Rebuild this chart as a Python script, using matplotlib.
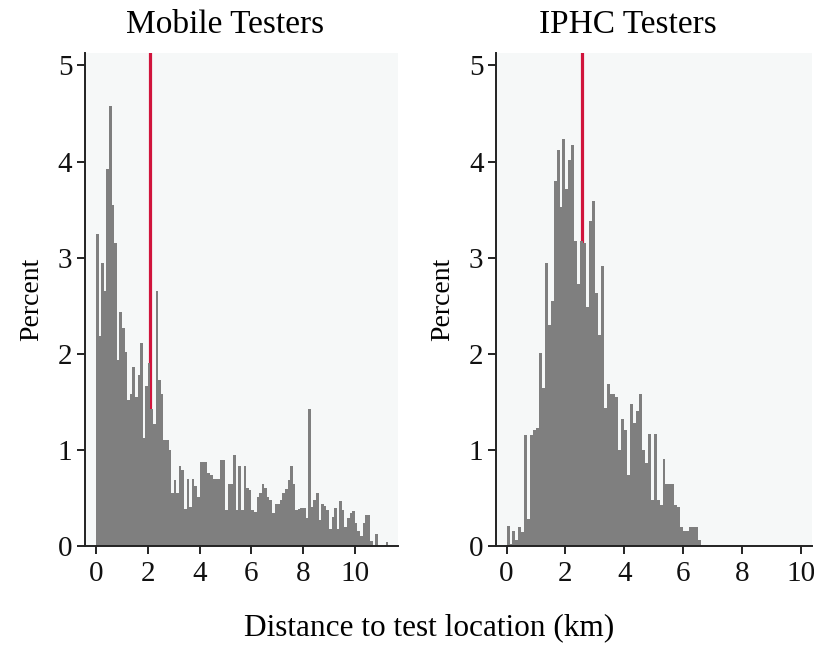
import matplotlib
matplotlib.use("Agg")
import matplotlib.pyplot as plt
import numpy as np

plt.rcParams['font.family'] = ['Liberation Serif', 'DejaVu Serif']

bin_width = 0.1

mobile_pct = [
    3.25, 2.18, 2.94, 2.65, 3.92, 4.58, 3.55, 3.15, 1.94, 2.44,
    2.27, 2.02, 1.52, 1.58, 1.86, 1.55, 1.78, 2.11, 1.12, 1.66,
    1.90, 1.43, 1.27, 2.65, 1.73, 1.58, 1.10, 1.10, 1.00, 0.55,
    0.69, 0.55, 0.83, 0.79, 0.39, 0.70, 0.41, 0.70, 0.62, 0.51,
    0.87, 0.87, 0.87, 0.76, 0.74, 0.70, 0.70, 0.70, 0.90, 0.90,
    0.37, 0.64, 0.65, 0.95, 0.37, 0.83, 0.37, 0.83, 0.60, 0.58,
    0.37, 0.35, 0.51, 0.55, 0.65, 0.60, 0.51, 0.48, 0.34, 0.44,
    0.44, 0.48, 0.55, 0.59, 0.69, 0.83, 0.65, 0.37, 0.39, 0.40,
    0.40, 0.29, 1.43, 0.41, 0.48, 0.55, 0.27, 0.44, 0.42, 0.37,
    0.18, 0.30, 0.40, 0.18, 0.47, 0.37, 0.20, 0.29, 0.34, 0.36,
    0.24, 0.16, 0.10, 0.24, 0.32, 0.32, 0.05, 0.00, 0.125, 0.00,
    0.00, 0.00, 0.04,
]

iphc_pct = [
    0.21, 0.02, 0.16, 0.06, 0.20, 0.15, 1.16, 0.28, 1.16, 1.21,
    1.23, 2.01, 1.64, 2.95, 2.30, 2.55, 3.80, 4.12, 3.53, 4.23,
    3.71, 4.02, 4.17, 3.17, 2.73, 3.17, 3.15, 2.49, 3.38, 3.59,
    2.63, 2.20, 2.91, 1.44, 1.69, 1.58, 1.58, 1.55, 1.00, 1.32,
    1.21, 0.74, 1.48, 1.28, 1.40, 1.58, 1.00, 0.86, 1.17, 0.48,
    1.17, 0.48, 0.43, 0.91, 0.65, 0.65, 0.65, 0.43, 0.41, 0.20,
    0.16, 0.16, 0.20, 0.20, 0.20, 0.06,
]

mobile_median = 2.1
iphc_median = 2.56

titles = ["Mobile Testers", "IPHC Testers"]
x_ticks = [0, 2, 4, 6, 8, 10]
y_ticks = [0, 1, 2, 3, 4, 5]
x_label = "Distance to test location (km)"
y_label = "Percent"

bar_color = "#7f7f7f"
bg_color = "#f6f8f8"
red = "#d0143c"

W, H = 814, 648
fig = plt.figure(figsize=(W / 100, H / 100), dpi=100)

def ax_rect(x0, x1, y0, y1):
    return [x0 / W, 1 - y1 / H, (x1 - x0) / W, (y1 - y0) / H]

ax1 = fig.add_axes(ax_rect(85, 398, 53, 546))
ax2 = fig.add_axes(ax_rect(496, 812, 53, 546))

panels = [
    (ax1, mobile_pct, mobile_median, (-0.43, 11.67)),
    (ax2, iphc_pct, iphc_median, (-0.36, 10.38)),
]

for ax, vals, med, xl in panels:
    vals = np.asarray(vals)
    edges = np.arange(len(vals)) * bin_width
    ax.set_facecolor(bg_color)
    ax.axvline(med, color=red, lw=2.3, zorder=1)
    ax.bar(edges, vals, width=bin_width, align='edge', color=bar_color,
           edgecolor='none', linewidth=0, zorder=2)
    ax.set_xlim(*xl)
    ax.set_ylim(0, 5.13)
    ax.set_xticks(x_ticks)
    ax.set_yticks(y_ticks)
    ax.tick_params(axis='both', labelsize=21, width=1.4, length=6,
                   color='#222222', labelcolor='#111111')
    ax.tick_params(axis='x', pad=5)
    ax.tick_params(axis='y', pad=3)
    for s in ['top', 'right']:
        ax.spines[s].set_visible(False)
    for s in ['left', 'bottom']:
        ax.spines[s].set_linewidth(1.4)
        ax.spines[s].set_color('#222222')
    ax.set_ylabel(y_label, fontsize=20, labelpad=10)

fig.text(225 / W, 1 - 25 / H, titles[0], ha='center', va='center', fontsize=24)
fig.text(628 / W, 1 - 25 / H, titles[1], ha='center', va='center', fontsize=24)
fig.text(429 / W, 1 - 628 / H, x_label, ha='center', va='center', fontsize=22.5)

fig.savefig("out.png", dpi=100, facecolor='white')
